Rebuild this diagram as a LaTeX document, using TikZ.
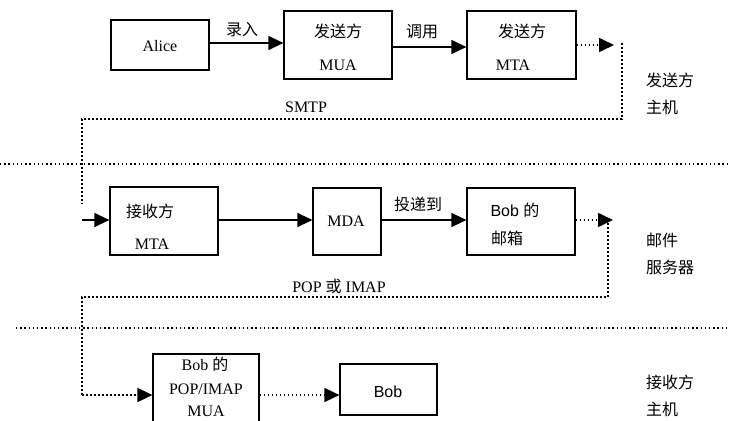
\documentclass[tikz,border=0pt]{standalone}
\usepackage{fontspec}
\setmainfont{Liberation Serif}
\newfontfamily\cjk{Noto Sans CJK SC}
\newfontfamily\lsans{Liberation Sans}
\usetikzlibrary{arrows.meta}
\begin{document}
\begin{tikzpicture}[x=1pt,y=-1pt,
  box/.style={draw,line width=1.2pt,inner sep=0pt},
  lbl/.style={inner sep=0pt,font=\fontsize{16}{18}\selectfont},
  arr/.style={line width=1.2pt,-{Triangle[length=15pt,width=14pt]}},
  darr/.style={line width=1.6pt,dash pattern=on 1.6pt off 2.4pt,-{Triangle[length=15pt,width=14pt]}},
  dline/.style={line width=1.6pt,dash pattern=on 1.6pt off 2.4pt},
  sep/.style={line width=1.4pt,dash pattern=on 1.4pt off 2.8pt}]
\useasboundingbox (0,0) rectangle (730,420);
% boxes
\node[box,minimum width=98pt,minimum height=50pt] (alice) at (160,45) {};
\node[box,minimum width=108pt,minimum height=68pt] (smua) at (338,45) {};
\node[box,minimum width=109pt,minimum height=68pt] (smta) at (521.5,45) {};
\node[box,minimum width=108pt,minimum height=68pt] (rmta) at (164,221) {};
\node[box,minimum width=68pt,minimum height=67pt] (mda) at (347,221.5) {};
\node[box,minimum width=108pt,minimum height=67pt] (mbox) at (521,221.5) {};
\node[box,minimum width=106pt,minimum height=74pt] (pmua) at (206,391) {};
\node[box,minimum width=97pt,minimum height=51pt] (bob) at (388.5,389.5) {};
% texts
\node[lbl] (talice) at (160,46) {Alice};
\node[lbl] (t1) at (338,31) {\cjk 发送方};
\node[lbl] (t2) at (338,65) {MUA};
\node[lbl] (t3) at (522,31) {\cjk 发送方};
\node[lbl] (t4) at (513,65) {MTA};
\node[lbl] (t5) at (150,211) {\cjk 接收方};
\node[lbl] (t6) at (152,244) {MTA};
\node[lbl] (t7) at (346,221) {MDA};
\node[lbl] (t8) at (515,210) {\lsans Bob {\cjk 的}};
\node[lbl] (t9) at (507,238) {\cjk 邮箱};
\node[lbl] (t10) at (205,364) {Bob {\cjk 的}};
\node[lbl] (t11) at (206,389) {POP/IMAP};
\node[lbl] (t12) at (206,411) {MUA};
\node[lbl] (t13) at (388,392) {\lsans Bob};
% edge labels
\node[lbl] (l1) at (242,30) {\cjk 录入};
\node[lbl] (l2) at (422,32) {\cjk 调用};
\node[lbl] (l3) at (418,204) {\cjk 投递到};
\node[lbl] (l4) at (306,107) {SMTP};
\node[lbl] (l5) at (339,286) {POP {\cjk 或} IMAP};
% side labels
\node[lbl,anchor=west] (s1) at (646,80) {\cjk 发送方};
\node[lbl,anchor=west] (s2) at (646,107) {\cjk 主机};
\node[lbl,anchor=west] (s3) at (646,240) {\cjk 邮件};
\node[lbl,anchor=west] (s4) at (646,267) {\cjk 服务器};
\node[lbl,anchor=west] (s5) at (646,382) {\cjk 接收方};
\node[lbl,anchor=west] (s6) at (646,409) {\cjk 主机};
% separators
\coordinate (sa) at (0,164);
\coordinate (sb) at (730,164);
\coordinate (sc) at (16,328);
\coordinate (sd) at (730,328);
\draw[sep] (sa) -- (sb);
\draw[sep] (sc) -- (sd);
% solid arrows
\draw[arr] (alice.east |- 0,43) -- (smua.west |- 0,43);
\draw[arr] (smua.east |- 0,47) -- (smta.west |- 0,47);
\draw[arr] (rmta.east |- 0,220) -- (mda.west |- 0,220);
\draw[arr] (mda.east |- 0,220) -- (mbox.west |- 0,220);
\coordinate (rin) at (82,220);
\draw[arr] (rin) -- (rmta.west |- rin);
% dotted route 1
\coordinate (d1) at (614,45);
\coordinate (c1) at (622,43);
\coordinate (c2) at (622,119);
\coordinate (c3) at (82,119);
\coordinate (c4) at (82,204);
\draw[darr] (smta.east |- d1) -- (d1);
\draw[dline] (c1) -- (c2) -- (c3) -- (c4);
% dotted route 2
\coordinate (d2) at (613,220);
\coordinate (e1) at (608,223);
\coordinate (e2) at (608,297);
\coordinate (e3) at (82,297);
\coordinate (e4) at (82,395);
\draw[darr] (mbox.east |- d2) -- (d2);
\draw[dline] (e1) -- (e2) -- (e3) -- (e4);
\draw[darr] (e4) -- (pmua.west |- e4);
\draw[darr] (pmua.east |- e4) -- (bob.west |- e4);
\end{tikzpicture}
\end{document}
